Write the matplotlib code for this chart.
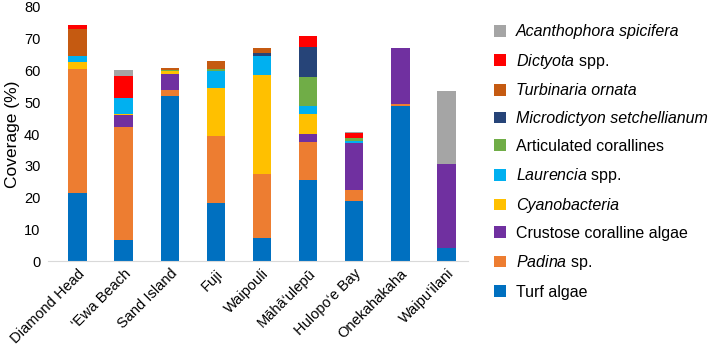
import numpy as np
import matplotlib
matplotlib.use('Agg')
import matplotlib.pyplot as plt
from matplotlib.patches import Patch

plt.rcParams['font.family'] = ['Liberation Sans', 'DejaVu Sans']
plt.rcParams['mathtext.fontset'] = 'custom'
plt.rcParams['mathtext.rm'] = 'Liberation Sans'
plt.rcParams['mathtext.it'] = 'Liberation Sans:italic'

sites = ["Diamond Head", "\u2018Ewa Beach", "Sand Island", "Fuji", "Waipouli",
         "M\u0101h\u0101\u2018ulep\u016b", "Hulopo\u2018e Bay", "Onekahakaha", "Waipu\u2018ilani"]

# stacked from bottom to top
turf         = [21.4,  6.8, 52.1, 18.4,  7.2, 25.6, 18.8, 48.8,  4.0]
padina       = [39.1, 35.4,  1.8, 21.1, 20.1, 12.0,  3.5,  0.6,  0.0]
cca          = [ 0.0,  3.7,  5.1,  0.0,  0.0,  2.3, 14.8, 17.8, 26.6]
cyano        = [ 2.2,  0.3,  0.8, 14.9, 31.4,  6.3,  0.0,  0.0,  0.0]
laurencia    = [ 2.0,  5.2,  0.0,  5.3,  5.9,  2.5,  0.6,  0.0,  0.0]
articulated  = [ 0.0,  0.0,  0.5,  0.7,  0.0,  9.3,  1.0,  0.0,  0.0]
microdictyon = [ 0.0,  0.0,  0.0,  0.0,  1.0,  9.4,  0.0,  0.0,  0.0]
turbinaria   = [ 8.5,  0.0,  0.5,  2.5,  1.4,  0.0,  0.2,  0.0,  0.0]
dictyota     = [ 1.1,  6.9,  0.0,  0.0,  0.0,  3.5,  1.3,  0.0,  0.0]
acanthophora = [ 0.0,  1.8,  0.0,  0.0,  0.0,  0.0,  0.5,  0.0, 23.0]

# (label, values, colour, whole label italic)
series = [
    ("Turf algae", turf, "#0070C0", False),
    (r"$\it{Padina}$ sp.", padina, "#ED7D31", False),
    ("Crustose coralline algae", cca, "#7030A0", False),
    ("Cyanobacteria", cyano, "#FFC000", True),
    (r"$\it{Laurencia}$ spp.", laurencia, "#00B0F0", False),
    ("Articulated corallines", articulated, "#70AD47", False),
    ("Microdictyon setchellianum", microdictyon, "#264478", True),
    ("Turbinaria ornata", turbinaria, "#C55A11", True),
    (r"$\it{Dictyota}$ spp.", dictyota, "#FF0000", False),
    ("Acanthophora spicifera", acanthophora, "#A5A5A5", True),
]

fig = plt.figure(figsize=(7.09, 3.5), dpi=100)
ax = fig.add_axes([0.0677, 0.254, 0.592, 0.726])

x = np.arange(len(sites))
bottom = np.zeros(len(sites))
handles = []
for label, vals, color, _ in series:
    vals = np.array(vals)
    ax.bar(x, vals, 0.4, bottom=bottom, color=color, linewidth=0)
    bottom += vals
    handles.append(Patch(facecolor=color, label=label))

ax.set_xlim(-0.64, 8.46)
ax.set_ylim(0, 80)
ax.set_yticks(range(0, 81, 10))
ax.set_xticks(x)
ax.set_xticklabels(sites, rotation=45, ha='right', rotation_mode='anchor', fontsize=10.5)
ax.tick_params(axis='y', length=0, labelsize=10.5, pad=5.5, colors='#000000')
ax.tick_params(axis='x', length=0, pad=4)
for s in ['top', 'right', 'left']:
    ax.spines[s].set_visible(False)
ax.spines['bottom'].set_color('#D9D9D9')
ax.set_ylabel("Coverage (%)", fontsize=12.5)
ax.yaxis.set_label_coords(-0.066, 0.5)

leg = fig.legend(handles[::-1], [h.get_label() for h in handles[::-1]],
                 loc='upper left', bbox_to_anchor=(0.688, 0.949), frameon=False,
                 fontsize=11.5, handlelength=0.75, handleheight=0.75,
                 handletextpad=0.6, labelspacing=0.79, borderaxespad=0)
for txt, (_, _, _, italic) in zip(leg.get_texts(), series[::-1]):
    if italic:
        txt.set_fontstyle('italic')

fig.savefig("out.png", dpi=100)
